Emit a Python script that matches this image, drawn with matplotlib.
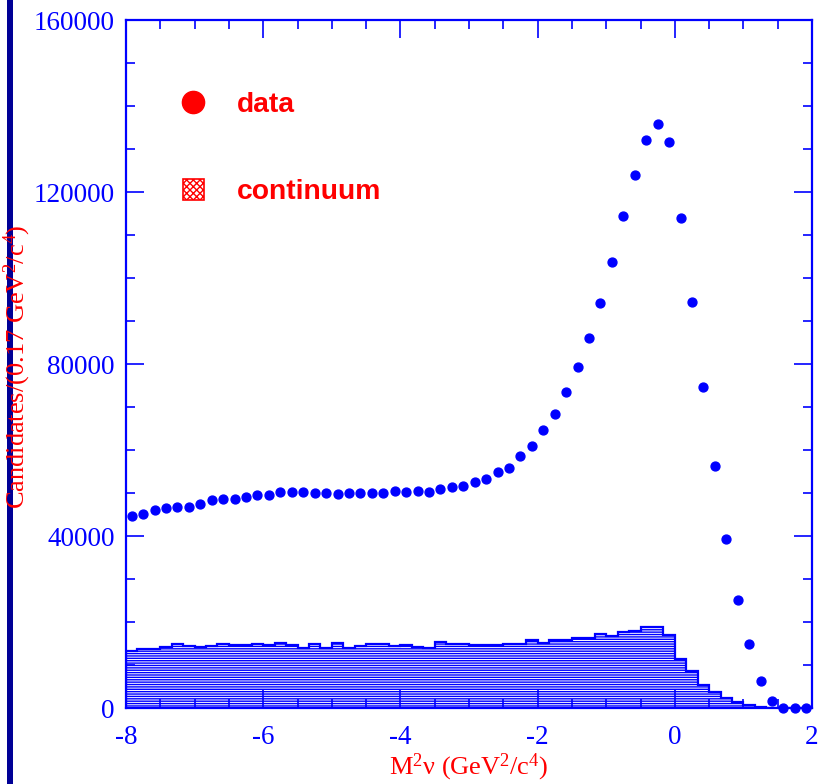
import numpy as np
import matplotlib
matplotlib.use("Agg")
import matplotlib.pyplot as plt
from matplotlib.lines import Line2D
from matplotlib.patches import Patch, Rectangle

plt.rcParams['mathtext.fontset'] = 'custom'
plt.rcParams['mathtext.rm'] = 'Liberation Serif'
plt.rcParams['mathtext.it'] = 'Liberation Serif:italic'
plt.rcParams['hatch.linewidth'] = 1.0

# bin edges of M^2nu (GeV^2/c^4), 60 bins from -8 to 2
bin_edges = np.linspace(-8, 2, 61)

data_counts = [44580, 45040, 46120, 46580, 46670, 46820, 47510, 48370, 48680, 48680,
               49000, 49610, 49530, 50300, 50230, 50160, 50000, 49930, 49840, 50000,
               50000, 49930, 50070, 50470, 50300, 50470, 50300, 50860, 51460, 51700,
               52630, 53330, 54880, 55890, 58540, 60930, 64580, 68370, 73490, 79230,
               86120, 94120, 103800, 114490, 123950, 132020, 135890, 131560, 113950, 94490,
               74650, 56280, 39300, 25120, 14880, 6360, 1550, 100, 50, 50]

continuum_counts = [13330, 13640, 13640, 14190, 14960, 14420, 14260, 14490, 14960, 14730,
                    14650, 14800, 14650, 15040, 14570, 13880, 14800, 14040, 15040, 13880,
                    14420, 14960, 14800, 14420, 14650, 14110, 14040, 15270, 14810, 14960,
                    14650, 14650, 14570, 14960, 14960, 15810, 15190, 15810, 15810, 16360,
                    16360, 17210, 16820, 17600, 17910, 18910, 18760, 16980, 11320, 8640,
                    5460, 3680, 2440, 1500, 660, 310, 0, 0, 0, 0]

x_ticks = [-8, -6, -4, -2, 0, 2]
y_ticks = [0, 40000, 80000, 120000, 160000]

BLUE = '#0000FF'
RED = '#FF0000'

fig = plt.figure(figsize=(8.19, 7.84), dpi=100)
ax = fig.add_axes([126/819, 76/784, 686/819, 688/784])

# dark vertical bar at far left
fig.add_artist(Rectangle((7.3/819, 0), 5.4/819, 1, transform=fig.transFigure,
                         facecolor='#000096', edgecolor='none', zorder=0))

centers = 0.5 * (bin_edges[:-1] + bin_edges[1:])

ax.stairs(continuum_counts, bin_edges, fill=True, facecolor='none', edgecolor=BLUE,
          hatch='-------', linewidth=1.6, zorder=1)
ax.plot(centers, data_counts, 'o', color=BLUE, markersize=6.4, zorder=3, clip_on=False)

ax.set_xlim(-8, 2)
ax.set_ylim(0, 160000)
ax.set_xticks(x_ticks)
ax.set_yticks(y_ticks)
ax.set_xticks(np.arange(-8, 2.01, 0.5), minor=True)
ax.set_yticks(np.arange(0, 160001, 10000), minor=True)
ax.set_xticklabels([str(t) for t in x_ticks])
ax.set_yticklabels([str(t) for t in y_ticks])

for s in ax.spines.values():
    s.set_color(BLUE)
    s.set_linewidth(1.6)

ax.tick_params(which='both', direction='in', top=True, right=True, color=BLUE, width=1.2)
ax.tick_params(which='major', length=13, labelsize=19.5, labelcolor=BLUE)
ax.tick_params(axis='x', which='major', pad=12)
ax.tick_params(axis='y', which='major', pad=8)
ax.tick_params(which='minor', length=6.5)
for lab in ax.get_xticklabels() + ax.get_yticklabels():
    lab.set_family('Liberation Serif')

ax.set_xlabel(r'M$^2$ν (GeV$^2$/c$^4$)', color=RED, fontsize=19, family='Liberation Serif')
ax.xaxis.set_label_coords(0.5, -0.064)
ax.set_ylabel(r'Candidates/(0.17 GeV$^2$/c$^4$)', color=RED, fontsize=19, family='Liberation Serif')
ax.yaxis.set_label_coords(-0.135, 0.496)

handles = [Line2D([], [], marker='o', color=RED, linestyle='', markersize=16),
           Patch(facecolor='white', edgecolor=RED, hatch='xxxxx', linewidth=1.2)]
leg = ax.legend(handles, ['data', 'continuum'], loc='upper left',
                bbox_to_anchor=(56.5/686, 1 - 72/688), frameon=False,
                prop={'family': 'Liberation Sans', 'weight': 'bold', 'size': 20.3},
                labelcolor=RED, handlelength=0.75, handleheight=0.78,
                handletextpad=1.19, labelspacing=2.14, borderpad=0, borderaxespad=0)

fig.savefig('out.png', dpi=100)
